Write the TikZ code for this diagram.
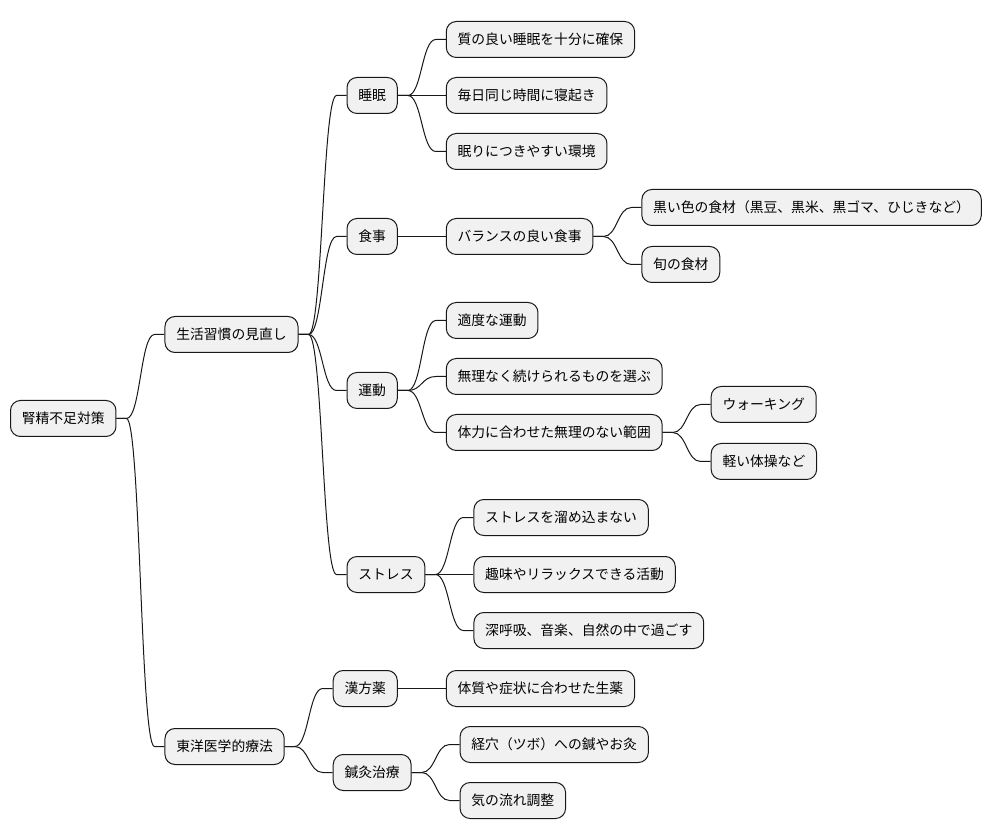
\documentclass[tikz,border=0pt]{standalone}
\usepackage{fontspec}
\setmainfont{Noto Sans CJK JP}
\usetikzlibrary{positioning}
\definecolor{boxfill}{HTML}{F1F1F1}
\definecolor{boxline}{HTML}{181818}

\tikzset{
  topic/.style={draw=boxline, fill=boxfill, line width=0.75pt, rounded corners=7.5pt,
    minimum height=27pt, inner xsep=8.5pt, font=\fontsize{10.35}{12}\selectfont},
  link/.style={draw=boxline, line width=0.75pt,
    to path={(\tikztostart.east) -- ++(7.5pt,0) .. controls +(10.5pt,0) and +(-10.5pt,0) .. ([xshift=-7.5pt]\tikztotarget.west) -- (\tikztotarget.west)}}
}

\begin{document}
\begin{tikzpicture}[node distance = 36pt]
\useasboundingbox (0,0) rectangle (744pt,-627.75pt);

\node[topic, anchor=west] (root) at (7.5pt,-313.875pt) {腎精不足対策};
\node[topic] (life) [right=of root, yshift=63pt] {生活習慣の見直し};
\node[topic] (east) [right=of root, yshift=-246pt] {東洋医学的療法};

\node[topic] (sleep) [right=of life, yshift=179.25pt] {睡眠};
\node[topic] (food) [right=of life, yshift=73.5pt] {食事};
\node[topic] (move) [right=of life, yshift=-42pt] {運動};
\node[topic] (stress) [right=of life, yshift=-180pt] {ストレス};

\node[topic] (sleep1) [right=of sleep, yshift=42pt] {質の良い睡眠を十分に確保};
\node[topic] (sleep2) [right=of sleep] {毎日同じ時間に寝起き};
\node[topic] (sleep3) [right=of sleep, yshift=-42pt] {眠りにつきやすい環境};

\node[topic] (food1) [right=of food] {バランスの良い食事};
\node[topic] (black) [right=of food1, yshift=21.75pt] {黒い色の食材（黒豆、黒米、黒ゴマ、ひじきなど）};
\node[topic] (season) [right=of food1, yshift=-21pt] {旬の食材};

\node[topic] (move1) [right=of move, yshift=52.5pt] {適度な運動};
\node[topic] (move2) [right=of move, yshift=10.5pt] {無理なく続けられるものを選ぶ};
\node[topic] (move3) [right=of move, yshift=-31.5pt] {体力に合わせた無理のない範囲};
\node[topic] (walk) [right=of move3, yshift=21pt] {ウォーキング};
\node[topic] (gym) [right=of move3, yshift=-21.75pt] {軽い体操など};

\node[topic] (stress1) [right=of stress, yshift=42.75pt] {ストレスを溜め込まない};
\node[topic] (stress2) [right=of stress] {趣味やリラックスできる活動};
\node[topic] (stress3) [right=of stress, yshift=-42pt] {深呼吸、音楽、自然の中で過ごす};

\node[topic] (kanpo) [right=of east, yshift=43.5pt] {漢方薬};
\node[topic] (shinkyu) [right=of east, yshift=-19.5pt] {鍼灸治療};
\node[topic] (kanpo1) [right=of kanpo] {体質や症状に合わせた生薬};
\node[topic] (point) [right=of shinkyu, yshift=21pt] {経穴（ツボ）への鍼やお灸};
\node[topic] (flow) [right=of shinkyu, yshift=-21pt] {気の流れ調整};

\path (root) edge[link] (life) edge[link] (east)
    (life) edge[link] (sleep) edge[link] (food) edge[link] (move) edge[link] (stress)
    (sleep) edge[link] (sleep1) edge[link] (sleep2) edge[link] (sleep3)
    (food) edge[link] (food1)
    (food1) edge[link] (black) edge[link] (season)
    (move) edge[link] (move1) edge[link] (move2) edge[link] (move3)
    (move3) edge[link] (walk) edge[link] (gym)
    (stress) edge[link] (stress1) edge[link] (stress2) edge[link] (stress3)
    (east) edge[link] (kanpo) edge[link] (shinkyu)
    (kanpo) edge[link] (kanpo1)
    (shinkyu) edge[link] (point) edge[link] (flow);
\end{tikzpicture}
\end{document}
